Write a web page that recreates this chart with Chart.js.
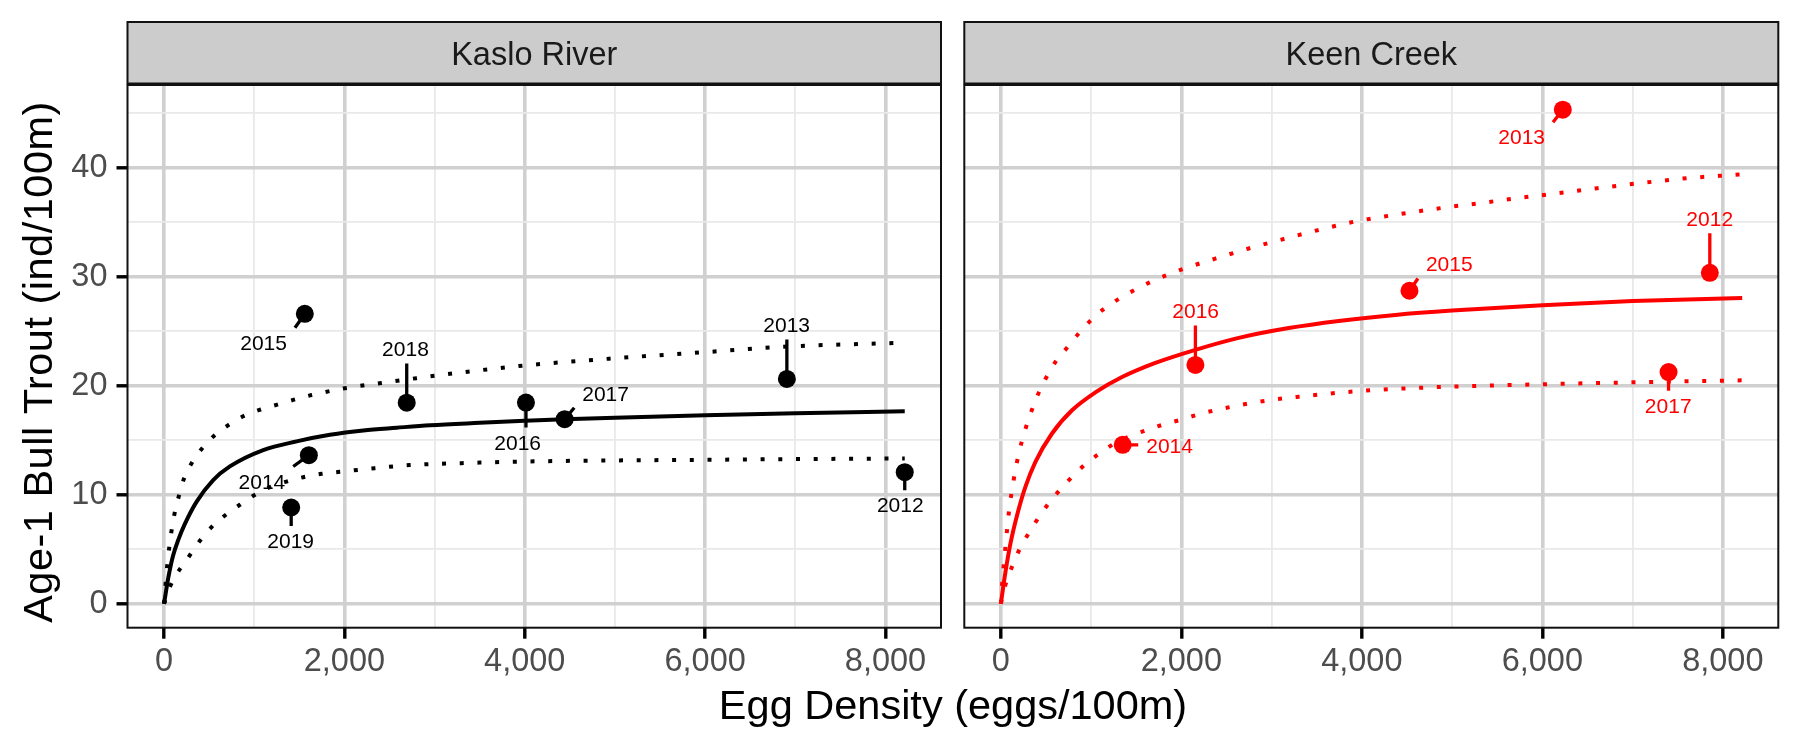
<!DOCTYPE html>
<html><head><meta charset="utf-8">
<script src="https://cdn.jsdelivr.net/npm/chart.js@4.4.1/dist/chart.umd.min.js"></script>
<style>
html,body{margin:0;padding:0;background:#fff;}
#wrap{position:relative;width:1800px;height:750px;background:#fff;}
canvas{position:absolute;left:0;top:0;}
</style></head><body>
<div id="wrap"><canvas id="c1" width="1800" height="750"></canvas><canvas id="c2" width="1800" height="750"></canvas></div>
<script>
// ---------------- data ----------------
const panelNames = ['Kaslo River', 'Keen Creek'];
const xAxisTitle = 'Egg Density (eggs/100m)';
const yAxisTitle = 'Age-1 Bull Trout (ind/100m)';

const xMajorTicks = [0, 2000, 4000, 6000, 8000];
const xMinorTicks = [1000, 3000, 5000, 7000];
const yMajorTicks = [0, 10, 20, 30, 40];
const yMinorTicks = [5, 15, 25, 35, 45];

// Kaslo River observations
const kasloYears = [2012, 2013, 2014, 2015, 2016, 2017, 2018, 2019];
const kasloEggs  = [8213, 6906, 1606, 1561, 4013, 4442, 2691, 1410];
const kasloAge1  = [12.07, 20.63, 13.63, 26.6, 18.46, 16.93, 18.45, 8.83];
const kasloLabelX = [8163, 6904, 1085, 1104, 3921, 4896, 2677, 1404];
const kasloLabelY = [9.08, 25.58, 11.26, 23.99, 14.83, 19.32, 23.38, 5.79];

// Kaslo River fitted curve and bounds
const kasloFitX = [0, 50, 100, 160, 230, 360, 545, 730, 1100, 1470, 1840, 2210, 2580, 2950, 3500, 4000, 4440, 5000, 6000, 7000, 8213];
const kasloFitY = [0, 2.5, 4.4, 5.9, 7.3, 9.35, 11.35, 12.6, 14.1, 14.9, 15.5, 15.9, 16.15, 16.38, 16.6, 16.78, 16.92, 17.07, 17.3, 17.48, 17.66];
const kasloUpX = [0, 25, 60, 110, 165, 213, 306, 417, 553, 705, 878, 1063, 1247, 1432, 1635, 2023, 2411, 2800, 3000, 3980, 4960, 5940, 6916, 8213];
const kasloUpY = [0, 2.6, 5.3, 8.0, 9.9, 11.3, 12.9, 14.2, 15.4, 16.35, 17.2, 17.8, 18.25, 18.7, 19.15, 19.8, 20.25, 20.7, 20.92, 21.85, 22.5, 23.05, 23.6, 23.95];
const kasloLoX = [0, 68, 287, 398, 527, 675, 841, 996, 1173, 1358, 1543, 1746, 1949, 2337, 2725, 3300, 4000, 5000, 5880, 7000, 8213];
const kasloLoY = [0, 1.6, 4.46, 5.78, 7.03, 8.1, 9.08, 9.93, 10.7, 11.21, 11.61, 11.92, 12.1, 12.44, 12.72, 12.9, 13.05, 13.15, 13.2, 13.27, 13.33];

// Keen Creek observations
const keenYears = [2012, 2013, 2014, 2015, 2016, 2017];
const keenEggs  = [7856, 6227, 1350, 4528, 2156, 7399];
const keenAge1  = [30.36, 45.33, 14.58, 28.72, 21.91, 21.26];
const keenLabelX = [7855, 5771, 1870, 4969, 2159, 7395];
const keenLabelY = [35.32, 42.85, 14.53, 31.18, 26.87, 18.2];

// Keen Creek fitted curve and bounds
const keenFitX = [0, 50, 105, 179, 272, 382, 567, 789, 1047, 1343, 1712, 2156, 2636, 3190, 3744, 4373, 5000, 6002, 7000, 8215];
const keenFitY = [0, 2.85, 5.47, 8.1, 10.72, 13.0, 15.62, 17.75, 19.39, 20.8, 22.1, 23.3, 24.4, 25.3, 25.95, 26.5, 26.9, 27.4, 27.78, 28.06];
const keenUpX = [0, 13, 50, 87, 142, 205, 279, 401, 493, 604, 733, 855, 985, 1132, 1295, 1465, 1638, 1823, 2008, 2377, 2747, 3135, 3523, 3911, 4299, 4871, 5300, 5666, 6054, 6440, 6830, 7220, 7606, 8215];
const keenUpY = [0, 1.7, 5.14, 8.26, 11.37, 14.0, 16.2, 19.0, 20.6, 22.18, 23.48, 24.73, 25.91, 26.99, 27.91, 28.72, 29.44, 30.1, 30.69, 31.67, 32.6, 33.47, 34.3, 35.05, 35.6, 36.3, 36.75, 37.15, 37.55, 37.95, 38.35, 38.72, 39.05, 39.4];
const keenLoX = [0, 50, 105, 179, 272, 371, 475, 593, 715, 845, 981, 1122, 1269, 1454, 1620, 1805, 2001, 2200, 2400, 2600, 2800, 3000, 3300, 3600, 3950, 4336, 4908, 5905, 6903, 8215];
const keenLoY = [0, 1.7, 3.0, 4.5, 5.95, 7.3, 8.6, 9.85, 11.0, 12.1, 13.1, 13.95, 14.75, 15.45, 15.95, 16.45, 16.9, 17.4, 17.8, 18.15, 18.45, 18.7, 19.0, 19.25, 19.5, 19.7, 19.9, 20.12, 20.3, 20.5];

// ---------------- rendering ----------------
const FONT = "'Liberation Sans', Arial, Helvetica, sans-serif";
Chart.defaults.font.family = FONT;
const X_MIN = -405, X_MAX = 8615, Y_MIN = -2.2, Y_MAX = 47.6;
const W = 1800, H = 750;
const AREA_TOP = 85, AREA_BOTTOM = 627.7;
const STRIP_TOP = 22;
const MAJOR_GRID = '#D0D0D0', MINOR_GRID = '#E9E9E9';

const pts = (xs, ys) => xs.map((x, i) => ({x: x, y: ys[i]}));

function makePanel(canvasId, cfg) {
  const isMajorX = v => xMajorTicks.includes(v);
  const isMajorY = v => yMajorTicks.includes(v);
  const extras = {
    id: 'extras_' + canvasId,
    afterDatasetsDraw(chart) {
      const ctx = chart.ctx, xs = chart.scales.x, ys = chart.scales.y;
      ctx.save();
      ctx.beginPath();
      ctx.rect(chart.chartArea.left, chart.chartArea.top, chart.chartArea.right - chart.chartArea.left, chart.chartArea.bottom - chart.chartArea.top);
      ctx.clip();
      const fs = 21;
      ctx.font = fs + 'px ' + FONT;
      const gh = 0.716 * fs;
      cfg.years.forEach((yr, i) => {
        const px = xs.getPixelForValue(cfg.eggs[i]);
        const py = ys.getPixelForValue(cfg.age[i]);
        const lx = xs.getPixelForValue(cfg.lx[i]);
        const ly = ys.getPixelForValue(cfg.ly[i]);
        const txt = String(yr);
        const w = ctx.measureText(txt).width;
        const bx0 = lx - w / 2 - 8, bx1 = lx + w / 2 + 8;
        const by0 = ly - gh / 2 - 7, by1 = ly + gh / 2 + 7;
        const nx = Math.min(Math.max(px, bx0), bx1);
        const ny = Math.min(Math.max(py, by0), by1);
        if (Math.hypot(nx - px, ny - py) > 9) {
          ctx.strokeStyle = cfg.color;
          ctx.lineWidth = 3.3;
          ctx.lineCap = 'butt';
          ctx.beginPath();
          ctx.moveTo(px, py);
          ctx.lineTo(nx, ny);
          ctx.stroke();
        }
        ctx.fillStyle = cfg.color;
        ctx.textAlign = 'center';
        ctx.textBaseline = 'alphabetic';
        ctx.fillText(txt, lx, ly + gh / 2);
      });
      ctx.restore();
    },
    afterDraw(chart) {
      const ctx = chart.ctx, a = chart.chartArea;
      ctx.save();
      // strip
      ctx.fillStyle = '#CCCCCC';
      ctx.fillRect(a.left, STRIP_TOP, a.right - a.left, AREA_TOP - STRIP_TOP);
      ctx.strokeStyle = '#111';
      ctx.lineWidth = 2;
      ctx.strokeRect(a.left, STRIP_TOP, a.right - a.left, AREA_TOP - STRIP_TOP - 1.5);
      ctx.fillStyle = '#1A1A1A';
      ctx.font = '32.5px ' + FONT;
      ctx.textAlign = 'center';
      ctx.textBaseline = 'alphabetic';
      ctx.fillText(cfg.title, (a.left + a.right) / 2, 65);
      // panel border
      ctx.strokeStyle = '#111';
      ctx.lineWidth = 2;
      ctx.strokeRect(a.left, a.top, a.right - a.left, a.bottom - a.top);
      // axis titles
      if (cfg.axisTitles) {
        ctx.fillStyle = '#000';
        ctx.font = '41.5px ' + FONT;
        ctx.textAlign = 'center';
        ctx.textBaseline = 'alphabetic';
        ctx.fillText(xAxisTitle, 953, 718.5);
        ctx.save();
        ctx.translate(52, 362);
        ctx.rotate(-Math.PI / 2);
        ctx.letterSpacing = '0.5px';
        ctx.fillText(yAxisTitle, 0, 0);
        ctx.restore();
      }
      ctx.restore();
    }
  };

  const dotted = [4, 13.7];
  return new Chart(document.getElementById(canvasId), {
    type: 'scatter',
    data: {
      datasets: [
        {data: pts(cfg.eggs, cfg.age), pointRadius: 9, pointHoverRadius: 9, backgroundColor: cfg.color, borderWidth: 0, showLine: false},
        {data: pts(cfg.fitX, cfg.fitY), showLine: true, pointRadius: 0, borderColor: cfg.color, borderWidth: 4, cubicInterpolationMode: 'monotone'},
        {data: pts(cfg.upX, cfg.upY), showLine: true, pointRadius: 0, borderColor: cfg.color, borderWidth: 4, borderDash: dotted, borderCapStyle: 'butt', cubicInterpolationMode: 'monotone'},
        {data: pts(cfg.loX, cfg.loY), showLine: true, pointRadius: 0, borderColor: cfg.color, borderWidth: 4, borderDash: dotted, borderCapStyle: 'butt', cubicInterpolationMode: 'monotone'}
      ]
    },
    options: {
      responsive: false,
      animation: false,
      devicePixelRatio: 1,
      events: [],
      layout: {padding: {left: 0, top: AREA_TOP, right: W - cfg.right, bottom: 0}},
      plugins: {legend: {display: false}, tooltip: {enabled: false}},
      scales: {
        x: {
          type: 'linear', min: X_MIN, max: X_MAX,
          afterBuildTicks: s => { s.ticks = xMajorTicks.concat(xMinorTicks).sort((p, q) => p - q).map(v => ({value: v})); },
          afterFit: s => { s.height = H - AREA_BOTTOM; },
          border: {display: false},
          grid: {
            color: c => isMajorX(c.tick.value) ? MAJOR_GRID : MINOR_GRID,
            lineWidth: c => isMajorX(c.tick.value) ? 3.6 : 1.8,
            tickColor: c => isMajorX(c.tick.value) ? '#000' : 'rgba(0,0,0,0)',
            tickWidth: 3.4, tickLength: 11, drawTicks: true
          },
          ticks: {
            autoSkip: false, maxRotation: 0, minRotation: 0, padding: 4,
            color: '#4D4D4D', font: {size: 32.5, family: FONT},
            callback: v => isMajorX(v) ? v.toLocaleString('en-US') : ''
          }
        },
        y: {
          type: 'linear', min: Y_MIN, max: Y_MAX,
          afterBuildTicks: s => { s.ticks = yMajorTicks.concat(yMinorTicks).sort((p, q) => p - q).map(v => ({value: v})); },
          afterFit: s => { s.width = cfg.left; },
          border: {display: false},
          grid: {
            color: c => isMajorY(c.tick.value) ? MAJOR_GRID : MINOR_GRID,
            lineWidth: c => isMajorY(c.tick.value) ? 3.6 : 1.8,
            tickColor: c => isMajorY(c.tick.value) ? '#000' : 'rgba(0,0,0,0)',
            tickWidth: 3.4, tickLength: 11, drawTicks: cfg.yTicks
          },
          ticks: {
            display: cfg.yTicks, autoSkip: false, padding: 9,
            color: '#4D4D4D', font: {size: 32.5, family: FONT},
            callback: v => isMajorY(v) ? String(v) : ''
          }
        }
      }
    },
    plugins: [extras]
  });
}

makePanel('c1', {
  title: panelNames[0], color: '#000000', left: 127.5, right: 941, yTicks: true, axisTitles: true,
  years: kasloYears, eggs: kasloEggs, age: kasloAge1, lx: kasloLabelX, ly: kasloLabelY,
  fitX: kasloFitX, fitY: kasloFitY, upX: kasloUpX, upY: kasloUpY, loX: kasloLoX, loY: kasloLoY
});
makePanel('c2', {
  title: panelNames[1], color: '#FF0000', left: 964.3, right: 1778.3, yTicks: false, axisTitles: false,
  years: keenYears, eggs: keenEggs, age: keenAge1, lx: keenLabelX, ly: keenLabelY,
  fitX: keenFitX, fitY: keenFitY, upX: keenUpX, upY: keenUpY, loX: keenLoX, loY: keenLoY
});
</script>
</body></html>
